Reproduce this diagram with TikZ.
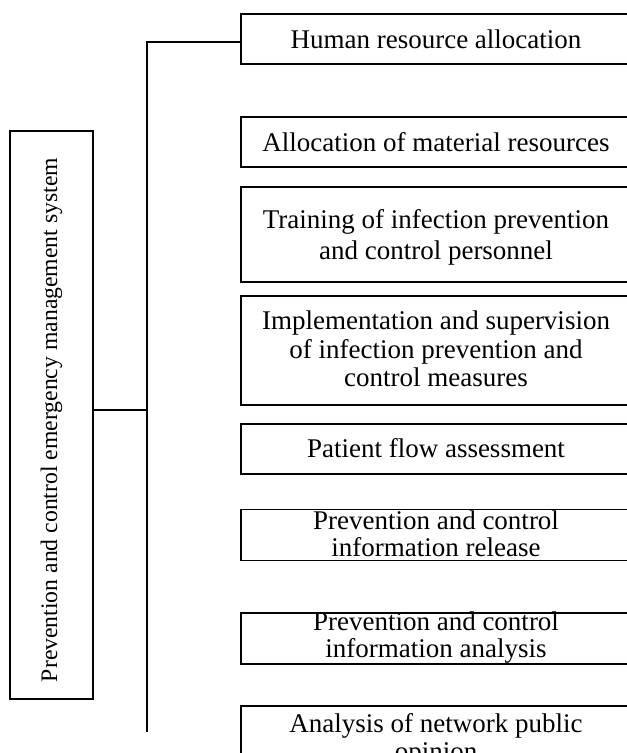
\documentclass[tikz,border=0pt]{standalone}
\usepackage{fontspec}
\setmainfont{Liberation Serif}
\begin{document}
\begin{tikzpicture}[x=1pt,y=-1pt]
\tikzset{
  box/.style={draw, line width=1.8pt, minimum width=390pt, inner sep=0pt, anchor=center},
  txt/.style={font=\fontsize{27}{31}\selectfont, align=center, inner sep=0pt},
  conn/.style={line width=1.8pt}
}
\useasboundingbox (0,0) rectangle (627,753);
% left box
\node[box, minimum width=83pt, minimum height=568pt] (sys) at (51.5,415) {};
\node[txt, rotate=90, font=\fontsize{23.7}{28}\selectfont] (syst) at (51.5,420) {Prevention and control emergency management system};
% right boxes
\node[box, minimum height=50pt] (hum) at (436,39) {};
\node[txt] (humt) at (436,39) {Human resource allocation};
\node[box, minimum height=50pt] (mat) at (436,142) {};
\node[txt] (matt) at (436,142) {Allocation of material resources};
\node[box, minimum height=95pt] (tra) at (436,234.5) {};
\node[txt, font=\fontsize{27}{31}\selectfont] (trat) at (436,237) {Training of infection prevention\\and control personnel};
\node[box, minimum height=109pt] (imp) at (436,350.5) {};
\node[txt, font=\fontsize{27}{28.5}\selectfont] (impt) at (436,349) {Implementation and supervision\\of infection prevention and\\control measures};
\node[box, minimum height=50pt] (pat) at (436,449) {};
\node[txt] (patt) at (436,448) {Patient flow assessment};
\node[box, minimum height=51pt] (rel) at (436,535) {};
\node[txt, font=\fontsize{27}{27}\selectfont] (relt) at (436,534) {Prevention and control\\information release};
\node[box, minimum height=51pt] (ana) at (436,638.5) {};
\node[txt, font=\fontsize{27}{27}\selectfont] (anat) at (436,638) {Prevention and control\\information analysis};
\node[box, minimum height=90pt] (net) at (436,751) {};
\node[txt, font=\fontsize{27}{28}\selectfont] (nett) at (436,740) {Analysis of network public\\opinion};
% connectors
\coordinate (ttop) at (147,42);
\coordinate (tbot) at (147,732);
\coordinate (tmid) at (147,410);
\draw[conn] (hum.west |- ttop) -- (ttop) -- (tbot);
\draw[conn] (sys.east |- tmid) -- (tmid);
\end{tikzpicture}
\end{document}
